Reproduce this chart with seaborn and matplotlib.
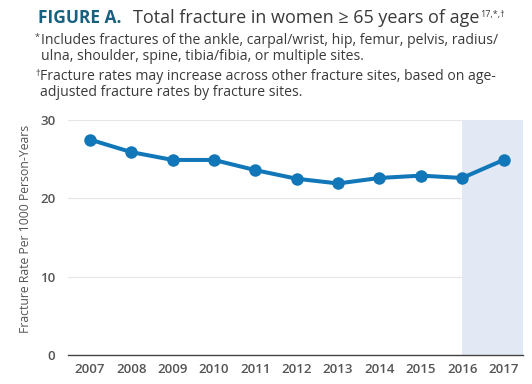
import matplotlib
matplotlib.use("Agg")
import matplotlib.pyplot as plt
import seaborn as sns
import pandas as pd

# data
years = [2007, 2008, 2009, 2010, 2011, 2012, 2013, 2014, 2015, 2016, 2017]
rates = [27.5, 25.9, 24.9, 24.9, 23.6, 22.5, 21.9, 22.6, 22.9, 22.6, 24.9]
y_ticks = [0, 10, 20, 30]
shade_from = 2016

df = pd.DataFrame({"year": years, "rate": rates})

sns.set_style("white")
plt.rcParams["font.family"] = ["Open Sans", "DejaVu Sans"]

blue = "#1177b8"
grey = "#555555"
txt = "#3a3a3a"

fig = plt.figure(figsize=(5.32, 3.84), dpi=100)
ax = fig.add_axes([68 / 532, 29 / 384, 455 / 532, 235 / 384])

ax.axvspan(shade_from, 2017.47, color="#e2e9f4", zorder=1, lw=0)
sns.lineplot(data=df, x="year", y="rate", ax=ax, color=blue, lw=2.9,
             marker="o", markersize=9, markeredgewidth=0, zorder=3)

ax.set_xlim(2006.47, 2017.47)
ax.set_ylim(0, 30)
ax.set_xticks(years)
ax.set_xticklabels([str(y) for y in years])
ax.set_yticks(y_ticks)
ax.yaxis.grid(True, color="#e6e6e6", lw=0.8, zorder=0)
ax.set_axisbelow(True)
for s in ["top", "right", "left"]:
    ax.spines[s].set_visible(False)
ax.spines["bottom"].set_color("#444444")
ax.spines["bottom"].set_linewidth(1.0)
ax.spines["bottom"].set_zorder(4)
ax.tick_params(axis="both", length=0, labelsize=9.5, colors=grey)
ax.tick_params(axis="y", pad=9)
ax.tick_params(axis="x", pad=6)
for lab in ax.get_xticklabels() + ax.get_yticklabels():
    lab.set_fontweight("semibold")
ax.set_xlabel("")
ax.set_ylabel("Fracture Rate Per 1000 Person-Years", fontsize=8.8, color=grey)
ax.yaxis.set_label_coords(-0.079, 0.536)

# title and footnotes
fig.text(38 / 532, 1 - 18 / 384, "FIGURE A.", fontsize=12.5, fontweight="bold",
         color="#17607f", va="center")
title = fig.text(133 / 532, 1 - 18 / 384, "Total fracture in women \u2265 65 years of age",
                 fontsize=13, color=txt, va="center")
fig.canvas.draw()
bb = title.get_window_extent().transformed(fig.transFigure.inverted())
fig.text(bb.x1 + 1 / 532, 1 - 14 / 384, "17,*,\u2020", fontsize=6.5, color=txt, va="center")

fig.text(35 / 532, 1 - 37 / 384, "*", fontsize=6.5, color=txt, va="center")
fig.text(41 / 532, 1 - 40 / 384,
         "Includes fractures of the ankle, carpal/wrist, hip, femur, pelvis, radius/",
         fontsize=10.1, color=txt, va="center")
fig.text(41 / 532, 1 - 57 / 384,
         "ulna, shoulder, spine, tibia/fibia, or multiple sites.",
         fontsize=10.1, color=txt, va="center")
fig.text(35 / 532, 1 - 74 / 384, "\u2020", fontsize=6.5, color=txt, va="center")
fig.text(40 / 532, 1 - 77 / 384,
         "Fracture rates may increase across other fracture sites, based on age-",
         fontsize=10.1, color=txt, va="center")
fig.text(40 / 532, 1 - 93 / 384,
         "adjusted fracture rates by fracture sites.",
         fontsize=10.1, color=txt, va="center")

fig.savefig("out.png", dpi=100)
